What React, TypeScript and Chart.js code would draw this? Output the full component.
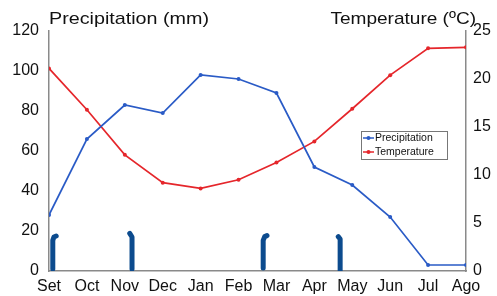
import React, { useEffect, useRef } from "react";
import { Chart, registerables } from "chart.js";
Chart.register(...registerables);

const months = ["Set", "Oct", "Nov", "Dec", "Jan", "Feb", "Mar", "Apr", "May", "Jun", "Jul", "Ago"];
const precipitation = [28, 66, 83, 79, 98, 96, 89, 52, 43, 27, 3, 3];
const temperature = [21.1, 16.8, 12.1, 9.2, 8.6, 9.5, 11.3, 13.5, 16.9, 20.4, 23.2, 23.3];
const precipTickStep = 20;
const precipMax = 120;
const tempTickStep = 5;
const tempMax = 25;

// hand-drawn markers near the bottom (x in month index, y in mm)
const markerSet = [{ x: 0.1, y: 1 }, { x: 0.1, y: 15.3 }, { x: 0.13, y: 17 }, { x: 0.19, y: 17.5 }];
const markerNov = [{ x: 2.19, y: 1 }, { x: 2.19, y: 17 }, { x: 2.13, y: 18.8 }];
const markerMar = [{ x: 5.65, y: 1.5 }, { x: 5.65, y: 15.3 }, { x: 5.69, y: 17.2 }, { x: 5.75, y: 17.7 }];
const markerMay = [{ x: 7.68, y: 0 }, { x: 7.68, y: 16 }, { x: 7.63, y: 17.2 }];

const FONT = "'Liberation Sans', Arial, Helvetica, sans-serif";
const BLUE = "#2a5bc6";
const RED = "#e5262b";
const MARK = "#0c4b8e";
const AXIS = "#8a8a8a";

const overlayPlugin = {
  id: "overlay",
  afterDraw(chart: any) {
    const ctx = chart.ctx;
    ctx.save();
    ctx.fillStyle = "#111";
    ctx.font = `17px ${FONT}`;
    ctx.textBaseline = "alphabetic";
    const sx = 1.16;
    ctx.save();
    ctx.translate(49, 24);
    ctx.scale(sx, 1);
    ctx.textAlign = "left";
    ctx.fillText("Precipitation (mm)", 0, 0);
    ctx.restore();
    ctx.save();
    ctx.translate(476, 24);
    ctx.scale(1.12, 1);
    ctx.textAlign = "right";
    ctx.fillText("Temperature (ºC)", 0, 0);
    ctx.restore();

    // legend
    const lx = 361, ly = 131, lw = 86, lh = 28;
    ctx.strokeStyle = "#777";
    ctx.lineWidth = 1;
    ctx.strokeRect(lx + 0.5, ly + 0.5, lw, lh);
    const items = [
      { label: chart.data.datasets[0].label, color: BLUE, y: ly + 7 },
      { label: chart.data.datasets[1].label, color: RED, y: ly + 21 },
    ];
    ctx.font = `10.5px ${FONT}`;
    ctx.textAlign = "left";
    ctx.textBaseline = "middle";
    for (const it of items) {
      ctx.strokeStyle = it.color;
      ctx.lineWidth = 1.5;
      ctx.beginPath();
      ctx.moveTo(lx + 2, it.y);
      ctx.lineTo(lx + 13, it.y);
      ctx.stroke();
      ctx.fillStyle = it.color;
      ctx.beginPath();
      ctx.arc(lx + 7.5, it.y, 2, 0, Math.PI * 2);
      ctx.fill();
      ctx.fillStyle = "#111";
      ctx.fillText(it.label, lx + 14, it.y + 0.5);
    }
    ctx.restore();
  },
};

function markerDataset(data: { x: number; y: number }[]) {
  return {
    label: "marker",
    data,
    yAxisID: "y",
    borderColor: MARK,
    backgroundColor: MARK,
    borderWidth: 5,
    borderCapStyle: "round",
    borderJoinStyle: "round",
    pointRadius: 0,
    tension: 0,
    fill: false,
  };
}

export default function App() {
  const ref = useRef<HTMLCanvasElement | null>(null);
  useEffect(() => {
    if (!ref.current) return;
    const chart = new Chart(ref.current, {
      type: "line",
      data: {
        datasets: [
          {
            label: "Precipitation",
            data: precipitation.map((v, i) => ({ x: i, y: v })),
            yAxisID: "y",
            borderColor: BLUE,
            backgroundColor: BLUE,
            borderWidth: 1.7,
            pointRadius: 2,
            pointBorderWidth: 0,
            tension: 0,
          },
          {
            label: "Temperature",
            data: temperature.map((v, i) => ({ x: i, y: v })),
            yAxisID: "y1",
            borderColor: RED,
            backgroundColor: RED,
            borderWidth: 1.7,
            pointRadius: 2,
            pointBorderWidth: 0,
            tension: 0,
          },
          markerDataset(markerSet),
          markerDataset(markerNov),
          markerDataset(markerMar),
          markerDataset(markerMay),
        ] as any,
      },
      plugins: [overlayPlugin],
      options: {
        responsive: false,
        animation: false,
        layout: { padding: { top: 31, left: 0, right: 0, bottom: 0 } },
        plugins: { legend: { display: false }, tooltip: { enabled: false } },
        scales: {
          x: {
            type: "linear",
            min: 0,
            max: months.length - 1,
            offset: false,
            grid: { display: false, drawTicks: false },
            border: { display: true, color: AXIS, width: 1.5 },
            ticks: {
              stepSize: 1,
              autoSkip: false,
              maxRotation: 0,
              padding: 6,
              color: "#111",
              font: { family: FONT, size: 16 },
              callback: (v: any) => months[v] ?? "",
            },
            afterFit: (s: any) => { s.height = 25; },
          },
          y: {
            type: "linear",
            position: "left",
            min: 0,
            max: precipMax,
            grid: { display: false, drawTicks: false },
            border: { display: true, color: AXIS, width: 1.5 },
            ticks: {
              stepSize: precipTickStep,
              padding: 10,
              color: "#111",
              font: { family: FONT, size: 16 },
            },
            afterFit: (s: any) => { s.width = 49; },
          },
          y1: {
            type: "linear",
            position: "right",
            min: 0,
            max: tempMax,
            grid: { display: false, drawTicks: false },
            border: { display: true, color: AXIS, width: 1.5 },
            ticks: {
              stepSize: tempTickStep,
              padding: 7,
              color: "#111",
              font: { family: FONT, size: 16 },
            },
            afterFit: (s: any) => { s.width = 31; },
          },
        },
      } as any,
    });
    return () => chart.destroy();
  }, []);
  return (
    <div style={{ position: "absolute", left: 0, top: 0, width: 497, height: 296, background: "#fff" }}>
      <canvas ref={ref} width={497} height={296} />
    </div>
  );
}
